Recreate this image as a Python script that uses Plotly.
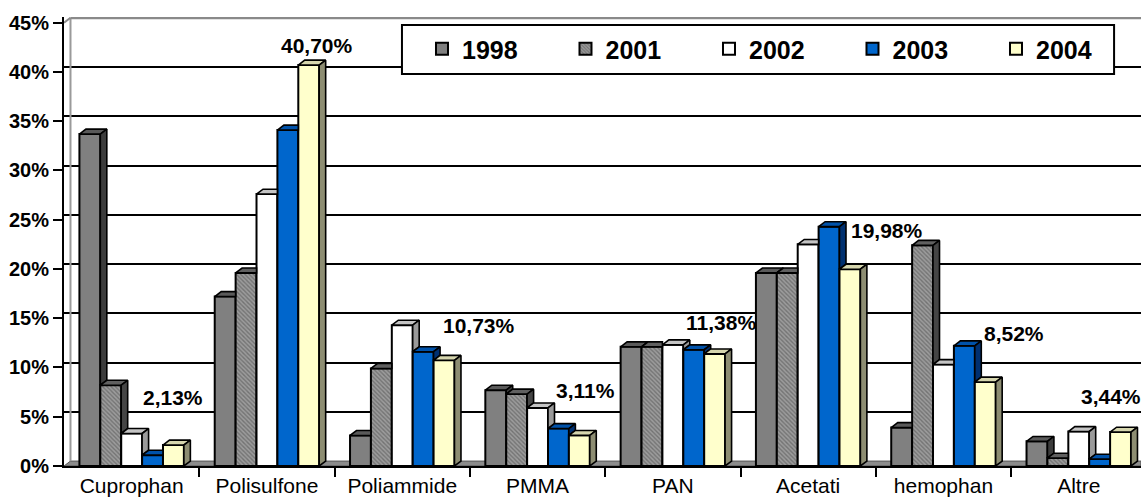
import plotly.graph_objects as go

# ---------------- data ----------------
categories = ["Cuprophan", "Polisulfone", "Poliammide", "PMMA", "PAN", "Acetati", "hemophan", "Altre"]
years = ["1998", "2001", "2002", "2003", "2004"]
v1998 = [33.7, 17.2, 3.1, 7.7, 12.1, 19.6, 3.9, 2.5]
v2001 = [8.2, 19.6, 9.9, 7.3, 12.1, 19.6, 22.4, 0.8]
v2002 = [3.3, 27.6, 14.3, 5.9, 12.3, 22.5, 10.3, 3.5]
v2003 = [1.1, 34.1, 11.6, 3.8, 11.8, 24.3, 12.2, 0.7]
v2004 = [2.13, 40.70, 10.73, 3.11, 11.38, 19.98, 8.52, 3.44]
y_tick_vals = [0, 5, 10, 15, 20, 25, 30, 35, 40, 45]
y_tick_text = ["0%", "5%", "10%", "15%", "20%", "25%", "30%", "35%", "40%", "45%"]

series = [v1998, v2001, v2002, v2003, v2004]

# ---------------- styles ----------------
front_colors = ["#808080", "#9a9a9a", "#ffffff", "#0066cc", "#ffffcc"]
top_colors = ["#5a5a5a", "#606060", "#c4c4c4", "#0052aa", "#d6d6ae"]
side_colors = ["#3c3c3c", "#454545", "#9a9a9a", "#003070", "#8d8d72"]
label_shift = [(0, 48), (8, 20), (35, 35), (6, 45), (6, 31), (37, 39), (29, 49), (-10, 36)]

FONT = "Arial, Liberation Sans, sans-serif"
BARGAP = 0.228
DEPTH_X = 0.048      # depth offset in x units
DEPTH_Y = 0.5        # depth offset in y units
X_RANGE = [-0.5, 7.46]
Y_RANGE = [0, 45.58]

n = len(years)
w = (1 - BARGAP) / n
xpos = list(range(len(categories)))

fig = go.Figure()

# front faces (real bars)
for s, (name, vals) in enumerate(zip(years, series)):
    off = (s - (n - 1) / 2) * w - w / 2
    marker = dict(color=front_colors[s], line=dict(color="black", width=2))
    if s == 1:
        marker["pattern"] = dict(shape="\\", fgcolor="#4a4a4a", bgcolor="#9c9c9c",
                                 size=3, solidity=0.45)
    fig.add_trace(go.Bar(x=xpos, y=vals, name=name, width=w, offset=off,
                         marker=marker, showlegend=True, hoverinfo="y"))

# top and side faces (pseudo-3D), derived from the same values
for s, vals in enumerate(series):
    off = (s - (n - 1) / 2) * w
    xt, yt, xs, ys = [], [], [], []
    for i, v in enumerate(vals):
        xl = i + off - w / 2
        xr = xl + w
        nxt = series[s + 1][i] if s < n - 1 else 0
        if nxt > v:
            xt += [xl, xr, xr, xl + DEPTH_X, xl, None]
            yt += [v, v, v + DEPTH_Y, v + DEPTH_Y, v, None]
        else:
            xt += [xl, xr, xr + DEPTH_X, xl + DEPTH_X, xl, None]
            yt += [v, v, v + DEPTH_Y, v + DEPTH_Y, v, None]
            lo = nxt
            xs += [xr, xr, xr + DEPTH_X, xr + DEPTH_X, xr, None]
            ys += [lo, v, v + DEPTH_Y, lo + DEPTH_Y, lo, None]
    fig.add_trace(go.Scatter(x=xt, y=yt, mode="lines", fill="toself",
                             fillcolor=top_colors[s], line=dict(color="black", width=1.6),
                             showlegend=False, hoverinfo="skip"))
    if xs:
        fig.add_trace(go.Scatter(x=xs, y=ys, mode="lines", fill="toself",
                                 fillcolor=side_colors[s], line=dict(color="black", width=1.6),
                                 showlegend=False, hoverinfo="skip"))

# data labels for 2004
last = n - 1
for i, v in enumerate(v2004):
    xc = i + (last - (n - 1) / 2) * w
    txt = f"{v:.2f}".replace(".", ",") + "%"
    dxs, dys = label_shift[i]
    fig.add_annotation(x=xc, y=v, text=txt, showarrow=False, xshift=dxs, yshift=dys,
                       xanchor="center", yanchor="middle",
                       font=dict(family=FONT, size=21, color="black", weight="bold"))

# background wall / floor decorations
top_back = 45 + DEPTH_Y
shapes = [
    # floor
    dict(type="path", xref="x", yref="y", layer="between",
         path=f"M {X_RANGE[0]},0 L {X_RANGE[1]},0 L {X_RANGE[1]},{DEPTH_Y} "
              f"L {X_RANGE[0] + DEPTH_X},{DEPTH_Y} Z",
         fillcolor="#8c8c8c", line=dict(color="#555555", width=1)),
    # left wall covering gridlines
    dict(type="rect", xref="x", yref="paper", layer="between",
         x0=X_RANGE[0], x1=X_RANGE[0] + DEPTH_X + 0.01, y0=0.01, y1=1,
         fillcolor="white", line=dict(width=0)),
    dict(type="line", xref="x", yref="y", layer="between",
         x0=X_RANGE[0] + DEPTH_X, x1=X_RANGE[0] + DEPTH_X, y0=DEPTH_Y, y1=top_back,
         line=dict(color="#9a9a9a", width=2)),
    # top border of back wall
    dict(type="line", xref="x", yref="y", layer="between",
         x0=X_RANGE[0] + DEPTH_X, x1=X_RANGE[1], y0=top_back, y1=top_back,
         line=dict(color="#8a8a8a", width=3)),
    dict(type="line", xref="x", yref="y", layer="between",
         x0=X_RANGE[0], x1=X_RANGE[0] + DEPTH_X, y0=45, y1=top_back,
         line=dict(color="#8a8a8a", width=2)),
    # legend box
    dict(type="rect", xref="paper", yref="paper", layer="above",
         x0=0.3138, x1=0.975, y0=0.873, y1=0.9822,
         fillcolor="white", line=dict(color="black", width=2)),
]

fig.update_layout(
    width=1141, height=501,
    margin=dict(l=64, r=0, t=17, b=35, autoexpand=False),
    paper_bgcolor="white", plot_bgcolor="white",
    barmode="overlay",
    shapes=shapes,
    font=dict(family=FONT, color="black"),
    xaxis=dict(range=X_RANGE, tickvals=xpos, ticktext=categories, ticks="",
               automargin=False,
               showgrid=False, zeroline=False, showline=True, linecolor="black", linewidth=2,
               tickfont=dict(family=FONT, size=21, color="black"),
               minor=dict(tickvals=[i + 0.5 for i in xpos[:-1]], ticks="outside",
                          ticklen=9, tickwidth=2, tickcolor="black", showgrid=False)),
    yaxis=dict(range=Y_RANGE, tickvals=y_tick_vals, ticktext=y_tick_text,
               automargin=False,
               ticks="outside", ticklen=9, tickwidth=2, tickcolor="black",
               showgrid=False, zeroline=False, showline=True, linecolor="black", linewidth=2,
               tickfont=dict(family=FONT, size=20, color="black", weight="bold")),
    yaxis2=dict(overlaying="y", range=[Y_RANGE[0] - DEPTH_Y, Y_RANGE[1] - DEPTH_Y],
                automargin=False,
                tickvals=y_tick_vals[1:-1], showticklabels=False, ticks="",
                showgrid=True, gridcolor="black", gridwidth=2, zeroline=False, showline=False),
    legend=dict(orientation="h", x=0.3324, xanchor="left", y=0.9287, yanchor="middle",
                bgcolor="rgba(0,0,0,0)", borderwidth=0,
                font=dict(family=FONT, size=25, color="black", weight="bold"),
                entrywidth=98.5, entrywidthmode="pixels", traceorder="normal"),
    showlegend=True,
)

# invisible trace to activate yaxis2 gridlines
fig.add_trace(go.Scatter(x=[X_RANGE[0]], y=[0], yaxis="y2", mode="markers",
                         marker=dict(opacity=0), showlegend=False, hoverinfo="skip"))

fig.write_html("out.html", config={"displayModeBar": False},
               post_script="document.body.style.margin='0';document.body.style.overflow='hidden';")
